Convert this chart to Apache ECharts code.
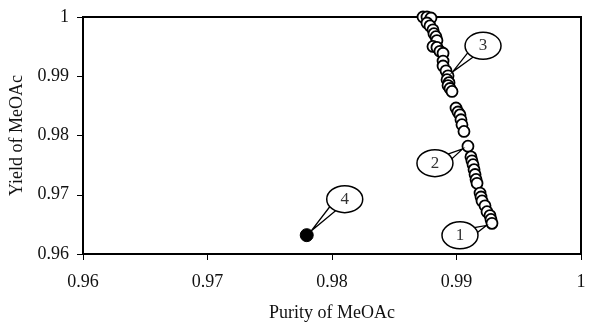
<!DOCTYPE html>
<html><head><meta charset="utf-8">
<script src="https://cdn.jsdelivr.net/npm/echarts@6/dist/echarts.min.js"></script>
<style>html,body{margin:0;padding:0;background:#fff}#c{width:599px;height:327px}</style>
</head><body><div id="c"></div>
<script>
// Data
const xTicks = [0.96, 0.97, 0.98, 0.99, 1];
const yTicks = [0.96, 0.97, 0.98, 0.99, 1];
const purity = [0.98731,0.98763,0.98795,0.98763,0.98787,0.98811,0.98819,0.98835,0.98843,0.98811,0.98843,0.98867,0.98892,0.98892,0.98892,0.98916,0.98932,0.98924,0.98940,0.98932,0.98948,0.98964,0.98996,0.99012,0.99028,0.99036,0.99044,0.99060,0.99092,0.99116,0.99124,0.99133,0.99141,0.99149,0.99157,0.99165,0.99189,0.99197,0.99205,0.99229,0.99245,0.99269,0.99277,0.99285];
const yieldV = [1.0000,1.0000,0.99983,0.99899,0.99850,0.99784,0.99718,0.99668,0.99602,0.99503,0.99487,0.99421,0.99388,0.99256,0.99173,0.99091,0.99008,0.98942,0.98892,0.98843,0.98793,0.98744,0.98464,0.98397,0.98348,0.98266,0.98183,0.98068,0.97820,0.97639,0.97573,0.97507,0.97424,0.97342,0.97259,0.97193,0.97028,0.96962,0.96896,0.96813,0.96714,0.96649,0.96583,0.96517];
const basePurity = [0.97797];
const baseYield = [0.96318];
// callouts: label, index into series (or 'base'), ellipse offset from the point
const callouts = [
  {label:'1', idx:43, dx:-32, dy:12},
  {label:'2', idx:28, dx:-33, dy:17},
  {label:'3', idx:16, dx:35, dy:-30},
  {label:'4', idx:'base', dx:38, dy:-36}
];

const font = 'Liberation Serif';
const chart = echarts.init(document.getElementById('c'));
const labelStyle = {color: '#111', fontFamily: font, fontSize: 18,
  formatter: v => { const r = Math.round(v*100)/100; return r === 1 ? '1' : r.toFixed(2); }};
const axisCommon = {
  min: 0.96, max: 1, interval: 0.01,
  axisLine: {show: true, lineStyle: {color: '#000', width: 2}},
  axisTick: {show: true, length: 6, lineStyle: {color: '#000', width: 1}},
  splitLine: {show: false},
  nameLocation: 'middle',
  nameTextStyle: {color: '#111', fontFamily: font, fontSize: 18}
};
chart.setOption({
  animation: false,
  grid: {left: 83, right: 18, top: 17, bottom: 67, show: true, borderColor: '#000', borderWidth: 2},
  xAxis: Object.assign({}, axisCommon, {type: 'value', name: 'Purity of MeOAc', nameGap: 50,
    axisLabel: Object.assign({}, labelStyle, {margin: 19})}),
  yAxis: Object.assign({}, axisCommon, {type: 'value', name: 'Yield of MeOAc', nameGap: 57,
    axisLabel: Object.assign({}, labelStyle, {margin: 14})}),
  series: [
    {type: 'scatter', data: purity.map((p,i)=>[p, yieldV[i]]), symbol: 'circle', symbolSize: 11,
      itemStyle: {color: '#fff', borderColor: '#000', borderWidth: 1.8, opacity: 1}, clip: false, z: 3},
    {type: 'scatter', data: basePurity.map((p,i)=>[p, baseYield[i]]), symbol: 'circle', symbolSize: 13,
      itemStyle: {color: '#000', borderColor: '#000', borderWidth: 1, opacity: 1}, z: 3}
  ]
});

const g = [];
callouts.forEach(c => {
  const pt = c.idx === 'base' ? [basePurity[0], baseYield[0]] : [purity[c.idx], yieldV[c.idx]];
  const p = chart.convertToPixel({gridIndex: 0}, pt);
  const cx = p[0] + c.dx, cy = p[1] + c.dy;
  const rx = 18, ry = 13.5;
  const ang = Math.atan2(p[1]-cy, p[0]-cx);
  const tip = [p[0] - Math.cos(ang)*6, p[1] - Math.sin(ang)*6];
  const bx = cx + Math.cos(ang)*rx*0.7, by = cy + Math.sin(ang)*ry*0.7;
  const nx = -Math.sin(ang), ny = Math.cos(ang);
  g.push({type: 'polygon', z: 10, shape: {points: [[bx+nx*4, by+ny*4], tip, [bx-nx*4, by-ny*4]]},
    style: {fill: '#fff', stroke: '#000', lineWidth: 1.3}});
  g.push({type: 'ellipse', z: 11, shape: {cx: cx, cy: cy, rx: rx, ry: ry},
    style: {fill: '#fff', stroke: '#000', lineWidth: 1.5}});
  g.push({type: 'text', z: 12, x: cx, y: cy, style: {text: c.label, fill: '#333', font: '17px "Liberation Serif"', align: 'center', verticalAlign: 'middle'}});
});
chart.setOption({graphic: g});
</script></body></html>
